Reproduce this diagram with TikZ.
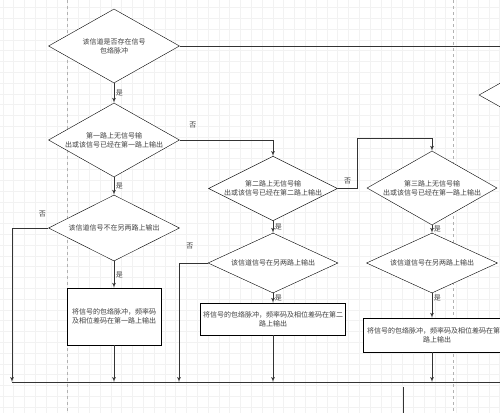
\documentclass[tikz,border=0pt]{standalone}
\usepackage{fontspec}
\setmainfont{Noto Sans CJK SC}
\usetikzlibrary{arrows,shapes.geometric,positioning}

\begin{document}
\begin{tikzpicture}[x=1pt, y=-1pt,
decision/.style = {draw, fill=white, diamond, aspect=2, inner sep=0pt, align=center},
block/.style = {draw, fill=white, rectangle, align=center, inner sep=1pt},
line/.style = {draw=black!80, line width=0.7pt},
gridline/.style = {draw=black!5, line width=0.4pt},
pagebreak/.style = {draw=black!30, dashed, line width=0.5pt},
every node/.style = {font=\fontsize{7}{9}\selectfont, text=black!75, inner sep=1.5pt},
auto,
node distance = 2cm,
>=latex'
]

    \useasboundingbox (0,0) rectangle (500,413);
    \clip (0,0) rectangle (500,413);
    \fill [white] (0,0) rectangle (500,413);

    % background grid and page breaks
    \foreach \gx in {0,...,46} {
        \draw [gridline] (2.7+\gx*10.8,0) -- (2.7+\gx*10.8,413);
    }
    \foreach \gy in {0,...,38} {
        \draw [gridline] (0,7.3+\gy*10.8) -- (500,7.3+\gy*10.8);
    }
    \draw [pagebreak] (67.5,0) -- (67.5,413);
    \draw [pagebreak] (453,0) -- (453,413);

    \node [decision, minimum width=131pt, minimum height=74pt] (chk) at (114,46) {该信道是否存在信号\\包络脉冲};
    \node [decision, minimum width=131pt, minimum height=74pt, below of=chk, node distance=94pt] (way1) {第一路上无信号输\\出或该信号已经在第一路上输出};
    \node [decision, minimum width=131pt, minimum height=66pt, below of=way1, node distance=88pt] (only1) {该信道信号不在另两路上输出};
    \node [block, minimum width=94pt, minimum height=57pt, below of=only1, node distance=88.5pt] (out1) {将信号的包络脉冲，频率码\\及相位差码在第一路上输出};

    \node [decision, minimum width=129pt, minimum height=61pt] (way2) at (273,188.5) {第二路上无信号输\\出或该信号已经在第二路上输出};
    \node [decision, minimum width=130pt, minimum height=60pt, below of=way2, node distance=74.5pt] (two2) {该信道信号在另两路上输出};
    \node [block, minimum width=145pt, minimum height=32pt, below of=two2, node distance=56pt] (out2) {将信号的包络脉冲，频率码及相位差码在第二\\路上输出};

    \node [decision, minimum width=130pt, minimum height=74pt] (way3) at (432,188) {第三路上无信号输\\出或该信号已经在第一路上输出};
    \node [decision, minimum width=131pt, minimum height=60pt, below of=way3, node distance=75pt] (two3) {该信道信号在另两路上输出};
    \node [block, minimum width=148pt, minimum height=34pt] (out3) at (437,335) {将信号的包络脉冲，频率码及相位差码在第三\\路上输出};

    \node [decision, minimum width=132pt, minimum height=74pt] (nxt) at (545,95) {};

    \coordinate (edge0) at (500,46);
    \coordinate (busW) at (12,382);
    \coordinate (bus2) at (179,382);
    \coordinate (busE) at (500,382);
    \coordinate (tailT) at (403,387);
    \coordinate (tailB) at (403,413);

    \draw [line] (chk.east) -- (edge0);
    \draw [line,->] (chk.south) -- node[right]{是} (way1.north);
    \draw [line,->] (way1.east) -| node[pos=0.07, above=10pt]{否} (way2.north);
    \draw [line,->] (way1.south) -- node[right]{是} (only1.north);

    \draw [line,->] (way2.east) -- node[above=3pt]{否} ++(20,0) |- ([yshift=12pt]way3.north) -- (way3.north);
    \draw [line,->] (way2.south) -- node[right]{是} (two2.north);
    \draw [line,->] (way3.south) -- node[right]{是} (two3.north);

    \draw [line,->] (only1.west) -| node[pos=0.08, above=9pt]{否} (busW);
    \draw [line,->] (only1.south) -- node[right]{是} (out1.north);
    \draw [line,->] (out1.south) -- (out1.south |- busW);

    \draw [line,->] (two2.west) -| node[pos=0.31, above=12pt]{否} (bus2);
    \draw [line,->] (two2.south) -- node[right]{是} (out2.north);
    \draw [line,->] (out2.south) -- (out2.south |- busW);

    \draw [line,->] (two3.south) -- node[pos=0.2, right]{是} (two3.south |- out3.north);
    \draw [line,->] (out3.south -| two3.south) -- (two3.south |- busW);

    \draw [line, line width=1pt] (busW) -- (busE);
    \draw [line] (tailT) -- (tailB);

\end{tikzpicture}
\end{document}
